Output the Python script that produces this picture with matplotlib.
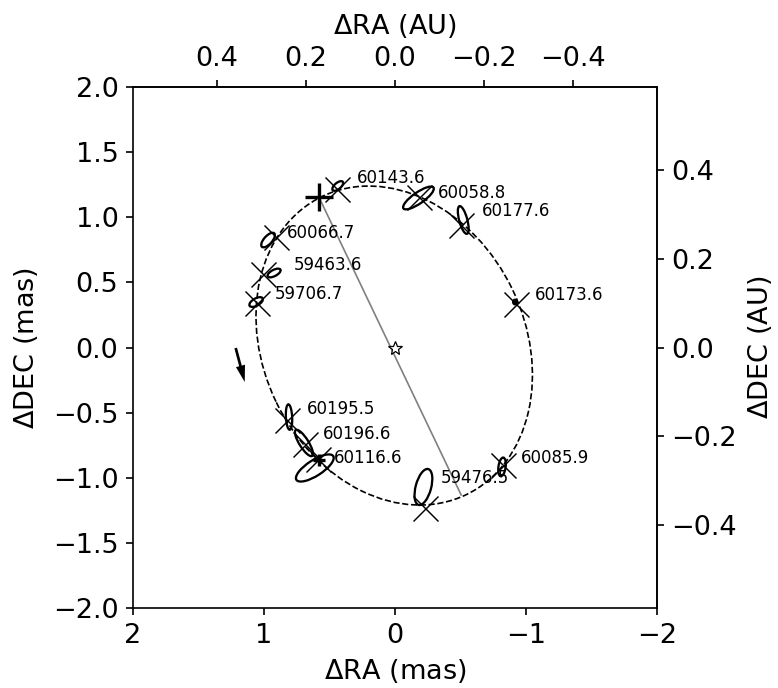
import numpy as np
import matplotlib
matplotlib.use("Agg")
import matplotlib.pyplot as plt
from matplotlib.patches import Ellipse

# parallax used for mas -> AU (AU = mas / plx)
plx = 3.4

# epochs (MJD) of the relative astrometry
epochs = ['60143.6', '60058.8', '60177.6', '60066.7', '59463.6', '59706.7',
          '60173.6', '60195.5', '60196.6', '60116.6', '59476.5', '60085.9']

# measured positions (mas) and error ellipses
obs_ra  = [0.437, -0.179, -0.521, 0.969, 0.923, 1.060,
           -0.916, 0.809, 0.695, 0.612, -0.217, -0.817]
obs_dec = [1.240, 1.148, 0.979, 0.825, 0.572, 0.349,
           0.349, -0.534, -0.733, -0.925, -1.071, -0.917]
err_maj = [0.100, 0.280, 0.220, 0.140, 0.110, 0.115,
           0.035, 0.195, 0.235, 0.335, 0.285, 0.145]
err_min = [0.048, 0.085, 0.062, 0.062, 0.048, 0.055,
           0.028, 0.048, 0.070, 0.120, 0.118, 0.055]
err_pa  = [140, 145, 75, 132, 152, 150, 90, 87, 58, 147, 105, 98]

# model positions at the same epochs (mas)
mod_ra  = [0.445, -0.186, -0.505, 0.908, 1.007, 1.052,
           -0.923, 0.824, 0.688, 0.589, -0.232, -0.824]
mod_dec = [1.217, 1.156, 0.941, 0.848, 0.564, 0.342,
           0.334, -0.557, -0.741, -0.856, -1.232, -0.902]

# where the epoch labels sit (mas)
lab_ra  = [0.293, -0.331, -0.665, 0.824, 0.771, 0.916,
           -1.067, 0.672, 0.551, 0.467, -0.353, -0.961]
lab_dec = [1.301, 1.186, 1.048, 0.879, 0.633, 0.411,
           0.403, -0.472, -0.664, -0.848, -1.002, -0.848]

# projected orbit: centre, full axes (mas), position angle (deg)
orb_ctr = (0.006, 0.015)
orb_w, orb_h, orb_ang = 2.54, 2.00, 64.5

# periastron / apastron ends of the line of apsides
peri = (0.581, 1.155)
apo  = (-0.505, -1.132)
# extra mark near 60116.6
mark = (0.581, -0.864)

# direction-of-motion arrow
arr_from = (1.216, -0.004)
arr_to   = (1.147, -0.265)

fs = 13

fig = plt.figure(figsize=(778/150, 688/150), dpi=150)
ax = fig.add_axes([133/778, 80/688, 524/778, 521/688])

# orbit and line of apsides
ax.add_patch(Ellipse(orb_ctr, orb_w, orb_h, angle=orb_ang, fill=False,
                     ls='--', lw=0.8, color='k'))
ax.plot([peri[0], apo[0]], [peri[1], apo[1]], color='gray', lw=0.8)

# central star
ax.plot(0, 0, marker='*', ms=7, mfc='white', mec='k', mew=0.6, ls='none')

# measurements
for i in range(len(epochs)):
    ax.add_patch(Ellipse((obs_ra[i], obs_dec[i]), err_maj[i], err_min[i],
                         angle=err_pa[i], fill=(err_maj[i] < 0.05),
                         lw=1.1, color='k'))
    ax.text(lab_ra[i], lab_dec[i], epochs[i], fontsize=8,
            ha='left', va='center')

ax.plot(mod_ra, mod_dec, 'x', color='k', ms=12, mew=0.7, ls='none')
ax.plot(*peri, '+', color='k', ms=13, mew=1.6)
ax.plot(*mark, '+', color='k', ms=6, mew=1.6)

ax.annotate('', xy=arr_to, xytext=arr_from,
            arrowprops=dict(width=1.3, headwidth=4.5, headlength=8,
                            color='k', lw=0, shrink=0))

ax.set_xlim(2, -2)
ax.set_ylim(-2, 2)
ax.set_xticks([2, 1, 0, -1, -2])
ax.set_xlabel(r'$\Delta$RA (mas)', fontsize=fs)
ax.set_ylabel(r'$\Delta$DEC (mas)', fontsize=fs, labelpad=6)
ax.tick_params(labelsize=fs)

# secondary axes in AU
secx = ax.secondary_xaxis('top', functions=(lambda m: m/plx, lambda a: a*plx))
secx.set_xlabel(r'$\Delta$RA (AU)', fontsize=fs, labelpad=6)
secx.tick_params(labelsize=fs)
secy = ax.secondary_yaxis('right', functions=(lambda m: m/plx, lambda a: a*plx))
secy.set_ylabel(r'$\Delta$DEC (AU)', fontsize=fs)
secy.tick_params(labelsize=fs)

fig.savefig('out.png', dpi=150)
